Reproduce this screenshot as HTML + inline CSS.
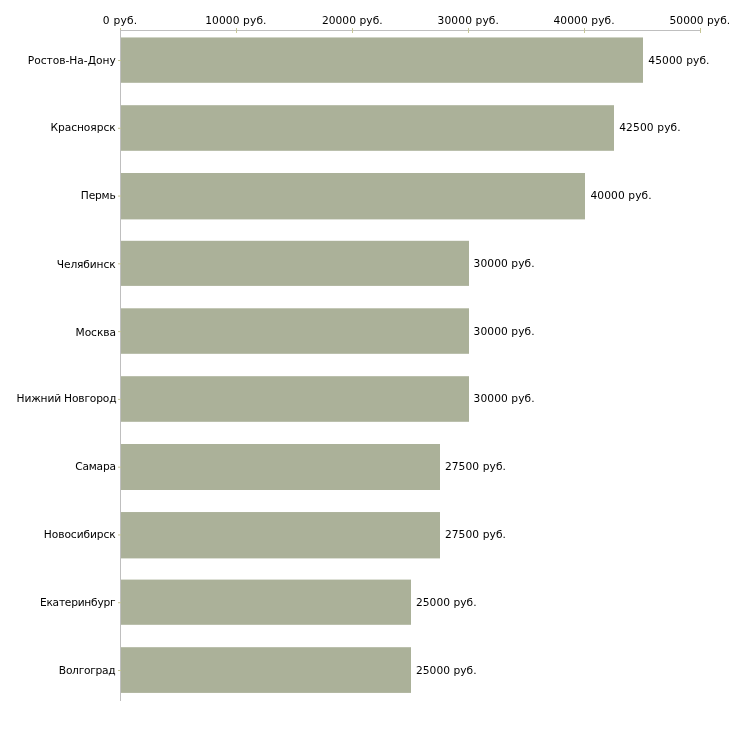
<!DOCTYPE html>
<html lang="ru"><head><meta charset="utf-8"><title>chart</title>
<style>
html,body{margin:0;padding:0;background:#fff;overflow:hidden;}
body{width:730px;height:730px;position:relative;overflow:hidden;font-family:"DejaVu Sans","Liberation Sans",sans-serif;font-size:10.667px;color:#000;line-height:14px;}
.cat{position:absolute;white-space:nowrap;text-align:right;height:14px;}
.val{position:absolute;white-space:nowrap;height:14px;}
.xl{position:absolute;top:14px;width:120px;text-align:center;white-space:nowrap;height:14px;}
</style></head><body>

<svg width="730" height="730" viewBox="0 0 730 730" style="position:absolute;left:0;top:0">
<rect x="120" y="30" width="581" height="1" fill="#bfbfbf"/>
<rect x="120" y="28" width="1" height="5" fill="#c6c696"/>
<rect x="236" y="28" width="1" height="5" fill="#c6c696"/>
<rect x="352" y="28" width="1" height="5" fill="#c6c696"/>
<rect x="468" y="28" width="1" height="5" fill="#c6c696"/>
<rect x="584" y="28" width="1" height="5" fill="#c6c696"/>
<rect x="700" y="28" width="1" height="5" fill="#c6c696"/>
<rect x="120" y="30" width="1" height="671" fill="#bfbfbf"/>
<rect x="118" y="60.00" width="3" height="1" fill="#c6c696"/>
<rect x="118" y="127.78" width="3" height="1" fill="#c6c696"/>
<rect x="118" y="195.56" width="3" height="1" fill="#c6c696"/>
<rect x="118" y="263.33" width="3" height="1" fill="#c6c696"/>
<rect x="118" y="331.11" width="3" height="1" fill="#c6c696"/>
<rect x="118" y="398.89" width="3" height="1" fill="#c6c696"/>
<rect x="118" y="466.67" width="3" height="1" fill="#c6c696"/>
<rect x="118" y="534.44" width="3" height="1" fill="#c6c696"/>
<rect x="118" y="602.22" width="3" height="1" fill="#c6c696"/>
<rect x="118" y="670.00" width="3" height="1" fill="#c6c696"/>
<rect x="121" y="37.45" width="522" height="45.35" fill="#abb199"/>
<rect x="121" y="105.20" width="493" height="45.60" fill="#abb199"/>
<rect x="121" y="173.00" width="464" height="46.40" fill="#abb199"/>
<rect x="121" y="240.80" width="348" height="45.10" fill="#abb199"/>
<rect x="121" y="308.30" width="348" height="45.50" fill="#abb199"/>
<rect x="121" y="376.20" width="348" height="45.60" fill="#abb199"/>
<rect x="121" y="444.00" width="319" height="46.00" fill="#abb199"/>
<rect x="121" y="512.05" width="319" height="46.35" fill="#abb199"/>
<rect x="121" y="579.60" width="290" height="45.20" fill="#abb199"/>
<rect x="121" y="647.20" width="290" height="45.70" fill="#abb199"/>
</svg>
<div class="xl" style="left:60.11px;letter-spacing:0.220px">0 руб.</div>
<div class="xl" style="left:175.86px;letter-spacing:0.111px">10000 руб.</div>
<div class="xl" style="left:292.30px;letter-spacing:0.050px">20000 руб.</div>
<div class="xl" style="left:408.29px;letter-spacing:0.107px">30000 руб.</div>
<div class="xl" style="left:524.12px;letter-spacing:0.100px">40000 руб.</div>
<div class="xl" style="left:639.89px;letter-spacing:0.030px">50000 руб.</div>
<div class="cat" style="top:54px;right:614.27px;letter-spacing:-0.015px">Ростов-На-Дону</div>
<div class="val" style="top:54px;left:648.37px;letter-spacing:0.089px">45000 руб.</div>
<div class="cat" style="top:121px;right:614.43px;letter-spacing:-0.052px">Красноярск</div>
<div class="val" style="top:121px;left:619.20px;letter-spacing:0.133px">42500 руб.</div>
<div class="cat" style="top:189px;right:614.44px;letter-spacing:-0.184px">Пермь</div>
<div class="val" style="top:189px;left:590.43px;letter-spacing:0.094px">40000 руб.</div>
<div class="cat" style="top:258px;right:614.50px;letter-spacing:-0.126px">Челябинск</div>
<div class="val" style="top:257px;left:473.50px;letter-spacing:0.096px">30000 руб.</div>
<div class="cat" style="top:326px;right:614.06px;letter-spacing:-0.064px">Москва</div>
<div class="val" style="top:325px;left:473.50px;letter-spacing:0.096px">30000 руб.</div>
<div class="cat" style="top:392px;right:613.67px;letter-spacing:-0.169px">Нижний Новгород</div>
<div class="val" style="top:392px;left:473.50px;letter-spacing:0.096px">30000 руб.</div>
<div class="cat" style="top:460px;right:614.28px;letter-spacing:-0.224px">Самара</div>
<div class="val" style="top:460px;left:444.90px;letter-spacing:0.083px">27500 руб.</div>
<div class="cat" style="top:528px;right:614.27px;letter-spacing:-0.068px">Новосибирск</div>
<div class="val" style="top:528px;left:444.90px;letter-spacing:0.083px">27500 руб.</div>
<div class="cat" style="top:596px;right:614.67px;letter-spacing:-0.247px">Екатеринбург</div>
<div class="val" style="top:596px;left:416.00px;letter-spacing:0.028px">25000 руб.</div>
<div class="cat" style="top:664px;right:614.73px;letter-spacing:-0.290px">Волгоград</div>
<div class="val" style="top:664px;left:416.00px;letter-spacing:0.028px">25000 руб.</div>
</body></html>
